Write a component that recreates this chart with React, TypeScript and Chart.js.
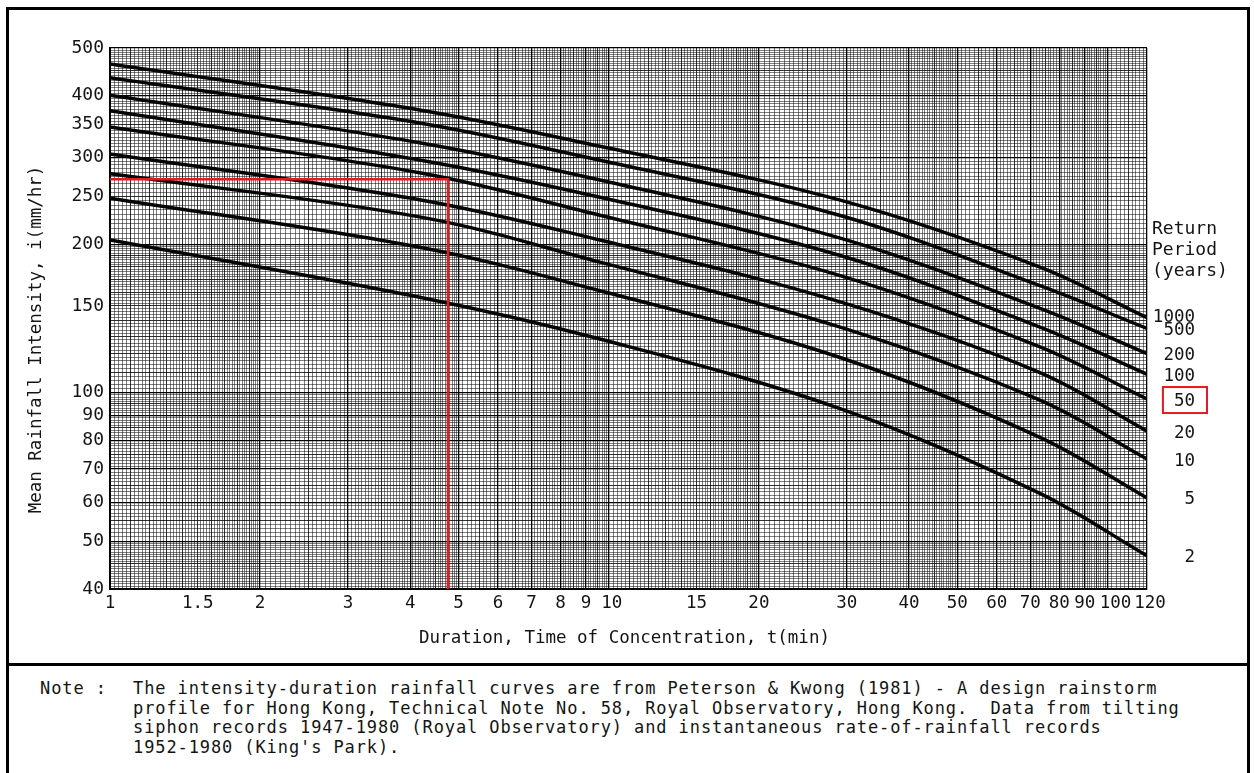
import React, { useEffect, useRef } from 'react';
import { Chart, registerables } from 'chart.js';

Chart.register(...registerables);

// ---- data ----
const durations = [1, 4.2, 9.6, 29, 73, 120];
const returnPeriods = [2, 5, 10, 20, 50, 100, 200, 500, 1000];
const rp2 = [204, 156, 128.5, 93, 62.6, 46.7];
const rp5 = [248, 197, 161, 118, 81.3, 61.2];
const rp10 = [278, 227, 184, 136, 96.7, 73.4];
const rp20 = [305, 246, 204, 153, 110, 83.6];
const rp50 = [346, 279, 229, 173, 124, 97.1];
const rp100 = [373, 296, 249, 190, 136, 109];
const rp200 = [401, 321, 270, 206, 148.5, 120];
const rp500 = [435, 352, 296, 229, 165, 135];
const rp1000 = [464, 374, 316, 246, 180, 142];
const seriesValues = [rp2, rp5, rp10, rp20, rp50, rp100, rp200, rp500, rp1000];

const xTickLabels = [1, 1.5, 2, 3, 4, 5, 6, 7, 8, 9, 10, 15, 20, 30, 40, 50, 60, 70, 80, 90, 100, 120];
const yTickLabels = [40, 50, 60, 70, 80, 90, 100, 150, 200, 250, 300, 350, 400, 500];
const xMin = 1;
const xMax = 120;
const yMin = 40;
const yMax = 500;

const designDuration = 4.76;
const designIntensity = 271;
const highlightedPeriod = 50;

const xTitle = 'Duration, Time of Concentration, t(min)';
const yTitle = 'Mean Rainfall Intensity, i(mm/hr)';
const legendTitle = ['Return', 'Period', '(years)'];
const noteLines = [
  'The intensity-duration rainfall curves are from Peterson & Kwong (1981) - A design rainstorm',
  'profile for Hong Kong, Technical Note No. 58, Royal Observatory, Hong Kong.  Data from tilting',
  'siphon records 1947-1980 (Royal Observatory) and instantaneous rate-of-rainfall records',
  "1952-1980 (King's Park).",
];

// ---- log graph-paper grid helpers ----
function fineTicks(min: number, max: number): number[] {
  const segs = [
    [1, 2, 0.02],
    [2, 5, 0.05],
    [5, 10, 0.1],
  ];
  const out = new Set<number>();
  for (let k = Math.floor(Math.log10(min)); k <= Math.ceil(Math.log10(max)); k++) {
    const b = Math.pow(10, k);
    for (const [s, e, st] of segs) {
      const n = Math.round((e - s) / st);
      for (let i = 0; i <= n; i++) {
        const v = Math.round((s + i * st) * b * 1e6) / 1e6;
        if (v >= min - 1e-9 && v <= max + 1e-9) out.add(v);
      }
    }
  }
  return Array.from(out).sort((a, b) => a - b);
}

function gridLevel(v: number, min: number, max: number): number {
  if (Math.abs(v - min) < 1e-9 || Math.abs(v - max) < 1e-9) return 3;
  const k = Math.floor(Math.log10(v) + 1e-9);
  const m = v / Math.pow(10, k);
  const isMult = (step: number) => Math.abs(m / step - Math.round(m / step)) < 1e-6;
  if (isMult(1)) return 3;
  if (m < 2 ? isMult(0.1) : isMult(0.5)) return 2;
  return 1;
}

const hasLabel = (list: number[], v: number) => list.some((l) => Math.abs(l - v) < 1e-6);

const FONT = '"DejaVu Sans Mono", monospace';
const INK = '#141414';

// small horizontal nudges so crowded x labels do not collide (as on the original sheet)
const xLabelNudge = (v: number) => (v === 100 ? 8 : v === 120 ? 3 : v === 10 ? 3 : 0);

const annotatePlugin = {
  id: 'annotate',
  afterDatasetsDraw(chart: any) {
    const { ctx, chartArea, scales } = chart;
    ctx.save();
    ctx.fillStyle = INK;
    ctx.textBaseline = 'middle';

    // x tick labels
    ctx.font = `17.5px ${FONT}`;
    ctx.textAlign = 'center';
    xTickLabels.forEach((v) => {
      ctx.fillText(String(v), scales.x.getPixelForValue(v) + xLabelNudge(v), chartArea.bottom + 14);
    });

    // x title
    ctx.fillText(xTitle, (chartArea.left + chartArea.right) / 2 - 4, chartArea.bottom + 49);

    // y title
    ctx.save();
    ctx.translate(36, (chartArea.top + chartArea.bottom) / 2 + 21);
    ctx.rotate(-Math.PI / 2);
    ctx.fillText(yTitle, 0, 0);
    ctx.restore();

    // legend header
    ctx.textAlign = 'left';
    ctx.font = `18px ${FONT}`;
    legendTitle.forEach((s, i) => ctx.fillText(s, chartArea.right + 5, 229 + i * 21));

    // curve labels
    ctx.textAlign = 'right';
    ctx.font = `17.5px ${FONT}`;
    const labelRight = chartArea.right + 48;
    returnPeriods.forEach((p, i) => {
      const vals = seriesValues[i];
      const y = scales.y.getPixelForValue(vals[vals.length - 1]) + (p === 1000 ? 0 : 2);
      const txt = String(p);
      ctx.fillStyle = INK;
      ctx.fillText(txt, labelRight, y);
      if (p === highlightedPeriod) {
        const w = ctx.measureText(txt).width;
        ctx.strokeStyle = '#e8191b';
        ctx.lineWidth = 2;
        ctx.strokeRect(labelRight - w - 11, y - 14, w + 23, 26);
      }
    });
    ctx.restore();
  },
};

export default function App() {
  const ref = useRef<HTMLCanvasElement>(null);

  useEffect(() => {
    if (!ref.current) return;
    const xGrid = fineTicks(xMin, xMax);
    const yGrid = fineTicks(yMin, yMax);

    const gridColor = (min: number, max: number) => (c: any) => {
      const v = c.tick ? c.tick.value : min;
      const lvl = gridLevel(v, min, max);
      return lvl === 3 ? '#000' : lvl === 2 ? 'rgba(0,0,0,0.8)' : 'rgba(0,0,0,0.5)';
    };
    const gridWidth = (min: number, max: number) => (c: any) => {
      const v = c.tick ? c.tick.value : min;
      const lvl = gridLevel(v, min, max);
      return lvl === 3 ? 1.3 : 1;
    };

    const curveDatasets = returnPeriods.map((p, i) => ({
      label: `${p} years`,
      data: durations.map((d, j) => ({ x: d, y: seriesValues[i][j] })),
      borderColor: '#050505',
      borderWidth: 3.5,
      pointRadius: 0,
      fill: false,
      tension: 0.35,
      order: 1,
    }));

    const designDataset = {
      label: 'design',
      data: [
        { x: xMin, y: designIntensity },
        { x: designDuration, y: designIntensity },
        { x: designDuration, y: yMin },
      ],
      borderColor: '#e8191b',
      borderWidth: 2.5,
      pointRadius: 0,
      fill: false,
      tension: 0,
      order: 0,
    };

    const chart = new Chart(ref.current, {
      type: 'line',
      data: { datasets: [designDataset as any, ...curveDatasets] },
      options: {
        animation: false,
        responsive: false,
        events: [],
        layout: { padding: { left: 0, right: 107, top: 48, bottom: 41 } },
        plugins: { legend: { display: false }, tooltip: { enabled: false } },
        scales: {
          x: {
            type: 'logarithmic',
            min: xMin,
            max: xMax,
            afterBuildTicks: (s: any) => {
              s.ticks = xGrid.map((v) => ({ value: v }));
            },
            afterFit: (s: any) => {
              s.height = 30;
            },
            grid: { drawTicks: false, color: gridColor(xMin, xMax), lineWidth: gridWidth(xMin, xMax) },
            border: { display: true, color: '#000', width: 2 },
            ticks: {
              display: false,
              autoSkip: false,
              maxRotation: 0,
              minRotation: 0,
            },
          },
          y: {
            type: 'logarithmic',
            min: yMin,
            max: yMax,
            afterBuildTicks: (s: any) => {
              s.ticks = yGrid.map((v) => ({ value: v }));
            },
            afterFit: (s: any) => {
              s.width = 110;
            },
            grid: { drawTicks: false, color: gridColor(yMin, yMax), lineWidth: gridWidth(yMin, yMax) },
            border: { display: true, color: '#000', width: 2 },
            ticks: {
              autoSkip: false,
              padding: 6,
              color: INK,
              font: { family: FONT, size: 18 },
              callback: (v: any) => (hasLabel(yTickLabels, Number(v)) ? String(Number(v)) : ''),
            },
          },
        },
      },
      plugins: [annotatePlugin],
    });
    return () => chart.destroy();
  }, []);

  const noteFont: React.CSSProperties = {
    position: 'absolute',
    top: 679,
    fontFamily: FONT,
    fontSize: 17,
    letterSpacing: '0.9px',
    lineHeight: '19.7px',
    whiteSpace: 'pre',
    color: INK,
  };

  return (
    <div
      style={{
        position: 'fixed',
        left: 0,
        top: 0,
        width: 1254,
        height: 773,
        background: '#fff',
        overflow: 'hidden',
      }}
    >
      <div
        style={{
          position: 'absolute',
          left: 6,
          top: 7,
          width: 1244,
          height: 659,
          border: '3px solid #000',
          boxSizing: 'border-box',
        }}
      />
      <div
        style={{
          position: 'absolute',
          left: 6,
          top: 663,
          width: 1244,
          height: 140,
          border: '3px solid #000',
          boxSizing: 'border-box',
        }}
      />
      <canvas ref={ref} width={1254} height={660} style={{ position: 'absolute', left: 0, top: 0 }} />
      <div style={{ ...noteFont, left: 40 }}>Note :</div>
      <div style={{ ...noteFont, left: 133 }}>{noteLines.join('\n')}</div>
    </div>
  );
}
